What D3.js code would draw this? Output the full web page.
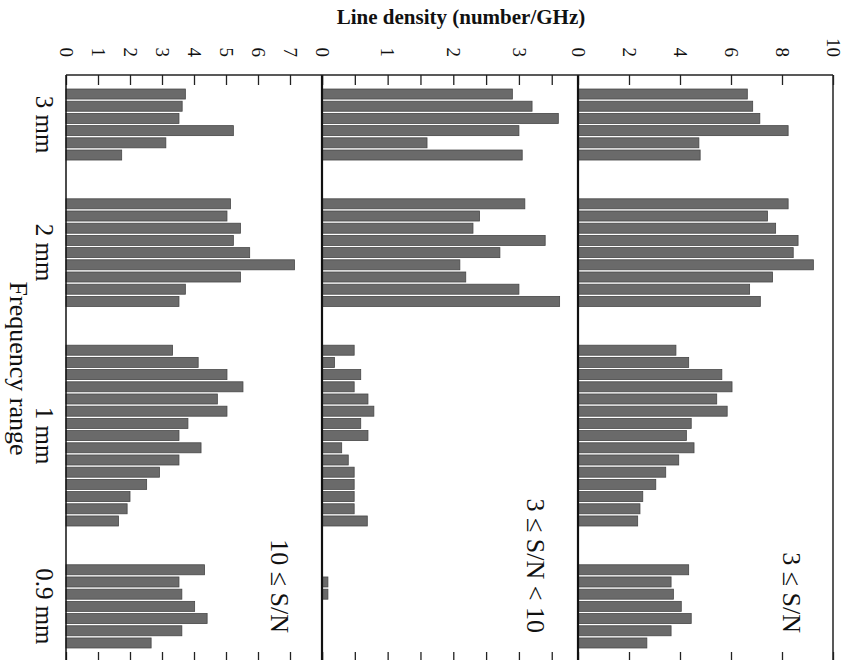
<!DOCTYPE html>
<html>
<head>
<meta charset="utf-8">
<script src="https://cdn.jsdelivr.net/npm/d3@7"></script>
<style>
  body { margin: 0; background: #fff; }
  text { font-family: "Liberation Serif", "Times New Roman", serif; fill: #111; }
</style>
</head>
<body>
<svg id="chart" width="852" height="660"></svg>
<script>
// frequency groups (bars per group)
const groupLabels = ["3 mm", "2 mm", "1 mm", "0.9 mm"];
const groupSizes = [6, 9, 15, 7];

// line density, number/GHz, one value per bar, in group order
const densityAll = [
  6.64, 6.85, 7.13, 8.24, 4.74, 4.79,
  8.24, 7.43, 7.75, 8.63, 8.44, 9.23, 7.63, 6.73, 7.15,
  3.84, 4.34, 5.64, 6.04, 5.44, 5.85, 4.44, 4.25, 4.55, 3.95, 3.44, 3.05, 2.54, 2.43, 2.34,
  4.34, 3.65, 3.74, 4.05, 4.44, 3.65, 2.70
];
const densityMid = [
  2.90, 3.20, 3.60, 3.00, 1.60, 3.05,
  3.09, 2.40, 2.30, 3.40, 2.71, 2.10, 2.19, 3.00, 3.62,
  0.49, 0.19, 0.59, 0.49, 0.70, 0.79, 0.59, 0.70, 0.30, 0.40, 0.49, 0.49, 0.49, 0.49, 0.69,
  0, 0.09, 0.09, 0, 0, 0, 0
];
const densityHigh = [
  3.73, 3.63, 3.53, 5.23, 3.12, 1.74,
  5.14, 5.03, 5.45, 5.23, 5.74, 7.14, 5.45, 3.73, 3.53,
  3.33, 4.13, 5.03, 5.53, 4.73, 5.03, 3.81, 3.53, 4.22, 3.53, 2.92, 2.52, 2.00, 1.91, 1.64,
  4.33, 3.53, 3.62, 4.02, 4.41, 3.62, 2.66
];

// panels, left to right
const panelNames = ["10 ≤ S/N", "3 ≤ S/N < 10", "3 ≤ S/N"];
const panelMax = [8, 3.9, 10];
const tickStep = [1, 0.5, 2];
const labelStep = [1, 1, 2];

const svg = d3.select("#chart");
const yTop = 75, yBottom = 662;
const panelX = [66, 322, 578, 833];
const gapSlots = 3;

// slot ids: bars plus empty gap slots between groups
const slots = [];
const barSlot = [];
const groupSlots = [];
groupSizes.forEach((n, g) => {
  if (g > 0) for (let k = 0; k < gapSlots; k++) slots.push(`gap${g}_${k}`);
  const ids = [];
  for (let i = 0; i < n; i++) {
    const id = `g${g}_${i}`;
    slots.push(id);
    barSlot.push(id);
    ids.push(id);
  }
  groupSlots.push(ids);
});

const y = d3.scaleBand(slots, [yTop, yBottom]).paddingInner(0.18).paddingOuter(1.15);

const panels = [
  { values: densityHigh },
  { values: densityMid },
  { values: densityAll }
];

panels.forEach((p, i) => {
  const x = d3.scaleLinear([0, panelMax[i]], [panelX[i], panelX[i + 1]]);
  const g = svg.append("g").attr("class", "panel");

  // bars
  g.selectAll("rect.bar")
    .data(p.values)
    .join("rect")
    .attr("class", "bar")
    .attr("x", x(0))
    .attr("y", (d, j) => y(barSlot[j]))
    .attr("width", d => x(d) - x(0))
    .attr("height", y.bandwidth())
    .attr("fill", "#6a6a6a")
    .attr("stroke", "#474747")
    .attr("stroke-width", 0.8);

  const ticks = d3.range(0, panelMax[i] + 1e-9, tickStep[i]);
  const fmt = d => {
    if (i === 0 && d === 8) return "";
    return Math.abs(d / labelStep[i] - Math.round(d / labelStep[i])) < 1e-9 ? d3.format("d")(d) : "";
  };

  const axT = g.append("g")
    .attr("transform", `translate(0,${yTop})`)
    .call(d3.axisTop(x).tickValues(ticks).tickSizeInner(-10).tickSizeOuter(0).tickFormat(fmt));
  axT.select(".domain").remove();
  axT.selectAll("line").attr("stroke", "#222").attr("stroke-width", 1.3);
  axT.selectAll("text")
    .attr("transform", "rotate(90)")
    .attr("x", -18)
    .attr("y", 0)
    .attr("dy", "0.35em")
    .attr("text-anchor", "end")
    .style("font-size", "19px")
    .style("font-family", "Liberation Serif");

  const axB = g.append("g")
    .attr("transform", `translate(0,${yBottom})`)
    .call(d3.axisBottom(x).tickValues(ticks).tickSizeInner(-10).tickSizeOuter(0).tickFormat(""));
  axB.select(".domain").remove();
  axB.selectAll("line").attr("stroke", "#222").attr("stroke-width", 1.3);

  // panel left edge
  g.append("line")
    .attr("x1", panelX[i]).attr("x2", panelX[i])
    .attr("y1", yTop).attr("y2", yBottom)
    .attr("stroke", "#111")
    .attr("stroke-width", i === 0 ? 1.5 : 2.2);

  // panel name
  g.append("text")
    .attr("transform", `translate(${panelX[i] + 205},633) rotate(90)`)
    .attr("text-anchor", "end")
    .style("font-size", "26px")
    .text(panelNames[i]);
});

// frame top / right / bottom
svg.append("line")
  .attr("x1", panelX[0]).attr("x2", panelX[3])
  .attr("y1", yTop).attr("y2", yTop)
  .attr("stroke", "#222").attr("stroke-width", 1.5);
svg.append("line")
  .attr("x1", panelX[0]).attr("x2", panelX[3])
  .attr("y1", yBottom).attr("y2", yBottom)
  .attr("stroke", "#222").attr("stroke-width", 1.5);
svg.append("line")
  .attr("x1", panelX[3]).attr("x2", panelX[3])
  .attr("y1", yTop).attr("y2", yBottom)
  .attr("stroke", "#222").attr("stroke-width", 1.5);

// frequency group labels
groupLabels.forEach((label, g) => {
  const ids = groupSlots[g];
  const cy = (y(ids[0]) + y(ids[ids.length - 1]) + y.bandwidth()) / 2;
  svg.append("text")
    .attr("transform", `translate(36,${cy}) rotate(90)`)
    .attr("text-anchor", "middle")
    .style("font-size", "25px")
    .text(label);
});

svg.append("text")
  .attr("transform", `translate(10,${(yTop + yBottom) / 2}) rotate(90)`)
  .attr("text-anchor", "middle")
  .style("font-size", "26px")
  .text("Frequency range");

svg.append("text")
  .attr("x", 461)
  .attr("y", 24)
  .attr("text-anchor", "middle")
  .style("font-size", "21px")
  .style("font-weight", "bold")
  .text("Line density (number/GHz)");
</script>
</body>
</html>
